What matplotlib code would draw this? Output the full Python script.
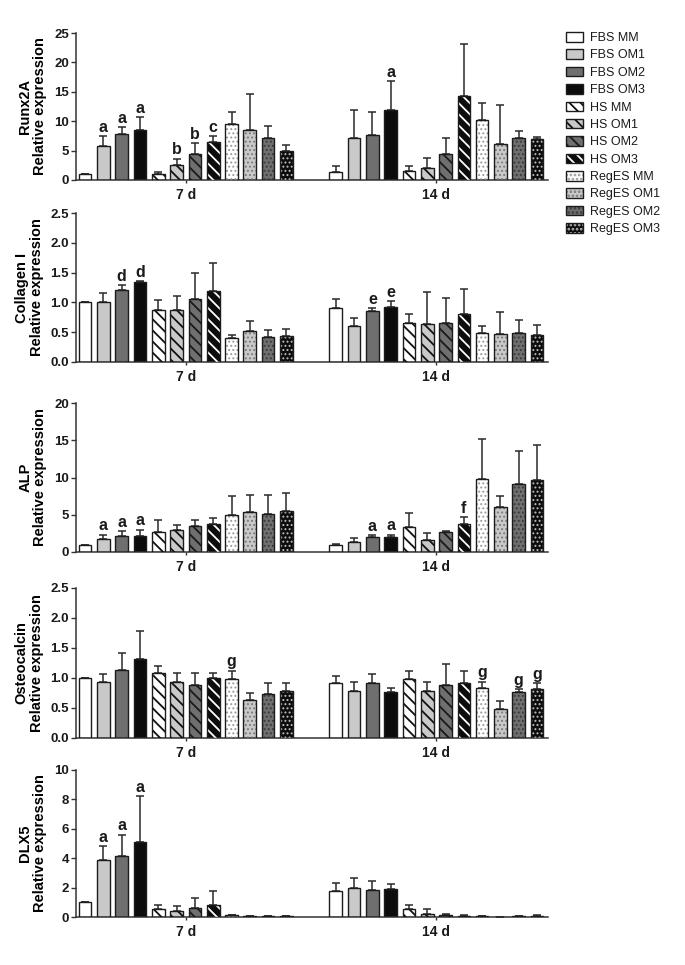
import matplotlib
matplotlib.use('Agg')
import matplotlib.pyplot as plt
import numpy as np
from matplotlib.patches import Patch
from matplotlib.legend_handler import HandlerTuple
from matplotlib.ticker import FormatStrFormatter, MultipleLocator

plt.rcParams['font.family'] = ['Liberation Sans', 'DejaVu Sans']
plt.rcParams['font.weight'] = 'bold'
plt.rcParams['hatch.linewidth'] = 1.3
plt.rcParams['text.color'] = '#1a1a1a'

# ---------------- data ----------------
conditions = ['FBS MM', 'FBS OM1', 'FBS OM2', 'FBS OM3',
              'HS MM', 'HS OM1', 'HS OM2', 'HS OM3',
              'RegES MM', 'RegES OM1', 'RegES OM2', 'RegES OM3']
timepoints = ['7 d', '14 d']

runx2a_7d = [1.0, 5.8, 7.8, 8.5, 1.1, 2.6, 4.4, 6.4, 9.5, 8.5, 7.1, 5.0]
runx2a_7d_err = [0.0, 1.7, 1.2, 2.2, 0.2, 1.0, 1.9, 1.0, 2.1, 6.2, 2.1, 0.9]
runx2a_14d = [1.4, 7.2, 7.6, 11.9, 1.6, 2.0, 4.4, 14.3, 10.2, 6.1, 7.2, 7.0]
runx2a_14d_err = [0.9, 4.7, 3.9, 4.9, 0.8, 1.7, 2.8, 8.9, 2.9, 6.6, 1.1, 0.3]
runx2a_7d_sig = ['', 'a', 'a', 'a', '', 'b', 'b', 'c', '', '', '', '']
runx2a_14d_sig = ['', '', '', 'a', '', '', '', '', '', '', '', '']

collagen_7d = [1.0, 1.0, 1.21, 1.35, 0.88, 0.88, 1.06, 1.19, 0.40, 0.52, 0.42, 0.44]
collagen_7d_err = [0.0, 0.16, 0.08, 0.01, 0.16, 0.23, 0.43, 0.47, 0.06, 0.16, 0.12, 0.11]
collagen_14d = [0.91, 0.61, 0.85, 0.93, 0.66, 0.64, 0.66, 0.80, 0.48, 0.47, 0.49, 0.45]
collagen_14d_err = [0.14, 0.12, 0.055, 0.09, 0.14, 0.54, 0.42, 0.43, 0.12, 0.37, 0.21, 0.17]
collagen_7d_sig = ['', '', 'd', 'd', '', '', '', '', '', '', '', '']
collagen_14d_sig = ['', '', 'e', 'e', '', '', '', '', '', '', '', '']

alp_7d = [1.0, 1.8, 2.1, 2.15, 2.7, 2.9, 3.5, 3.8, 5.0, 5.4, 5.1, 5.5]
alp_7d_err = [0.0, 0.5, 0.7, 0.85, 1.6, 0.75, 0.8, 0.7, 2.55, 2.2, 2.5, 2.4]
alp_14d = [0.95, 1.35, 2.05, 2.05, 3.4, 1.6, 2.7, 3.7, 9.8, 6.1, 9.1, 9.6]
alp_14d_err = [0.1, 0.55, 0.2, 0.25, 1.9, 0.9, 0.1, 1.0, 5.4, 1.45, 4.5, 4.8]
alp_7d_sig = ['', 'a', 'a', 'a', '', '', '', '', '', '', '', '']
alp_14d_sig = ['', '', 'a', 'a', '', '', '', 'f', '', '', '', '']

osteocalcin_7d = [1.0, 0.93, 1.13, 1.32, 1.08, 0.93, 0.89, 1.0, 0.99, 0.64, 0.74, 0.79]
osteocalcin_7d_err = [0.0, 0.13, 0.29, 0.46, 0.12, 0.15, 0.19, 0.09, 0.13, 0.11, 0.17, 0.12]
osteocalcin_14d = [0.91, 0.78, 0.91, 0.77, 0.98, 0.78, 0.89, 0.92, 0.84, 0.48, 0.76, 0.82]
osteocalcin_14d_err = [0.12, 0.16, 0.16, 0.06, 0.13, 0.15, 0.34, 0.19, 0.10, 0.14, 0.05, 0.09]
osteocalcin_7d_sig = ['', '', '', '', '', '', '', '', 'g', '', '', '']
osteocalcin_14d_sig = ['', '', '', '', '', '', '', '', 'g', '', 'g', 'g']

dlx5_7d = [1.0, 3.9, 4.15, 5.1, 0.52, 0.39, 0.61, 0.84, 0.11, 0.06, 0.07, 0.07]
dlx5_7d_err = [0.0, 0.92, 1.45, 3.1, 0.3, 0.38, 0.66, 0.93, 0.03, 0.02, 0.02, 0.02]
dlx5_14d = [1.8, 1.95, 1.86, 1.9, 0.52, 0.2, 0.11, 0.10, 0.05, 0.02, 0.07, 0.10]
dlx5_14d_err = [0.54, 0.71, 0.59, 0.33, 0.3, 0.35, 0.09, 0.03, 0.02, 0.01, 0.02, 0.03]
dlx5_7d_sig = ['', 'a', 'a', 'a', '', '', '', '', '', '', '', '']
dlx5_14d_sig = ['', '', '', '', '', '', '', '', '', '', '', '']

genes = ['Runx2A', 'Collagen I', 'ALP', 'Osteocalcin', 'DLX5']
y_max = [25, 2.5, 20, 2.5, 10]
y_step = [5, 0.5, 5, 0.5, 2]

panel_data = [
    (runx2a_7d, runx2a_7d_err, runx2a_7d_sig, runx2a_14d, runx2a_14d_err, runx2a_14d_sig),
    (collagen_7d, collagen_7d_err, collagen_7d_sig, collagen_14d, collagen_14d_err, collagen_14d_sig),
    (alp_7d, alp_7d_err, alp_7d_sig, alp_14d, alp_14d_err, alp_14d_sig),
    (osteocalcin_7d, osteocalcin_7d_err, osteocalcin_7d_sig, osteocalcin_14d, osteocalcin_14d_err, osteocalcin_14d_sig),
    (dlx5_7d, dlx5_7d_err, dlx5_7d_sig, dlx5_14d, dlx5_14d_err, dlx5_14d_sig),
]

# ---------------- styles ----------------
fills = ['#ffffff', '#c9c9c9', '#6f6f6f', '#0c0c0c'] * 3
STRIPE = '\\\\\\'
DOTS = '....'
hatches = [None] * 4 + [STRIPE] * 4 + [DOTS] * 4
hatch_cols = [None] * 4 + ['#111111', '#111111', '#1a1a1a', '#ffffff'] + \
             ['#9a9a9a', '#7a7a7a', '#3a3a3a', '#bdbdbd']
EDGE = '#1c1c1c'
BAR_W = 0.69
GROUP_OFFSET = 13.7

# axes positions in pixels (top, bottom)
fig_w, fig_h = 685, 965
ax_left, ax_right = 76, 548
panel_px = [(33, 180), (213, 362), (403, 552), (588, 738), (770, 917)]

fig = plt.figure(figsize=(fig_w / 100, fig_h / 100), dpi=100)


def styled_bar(ax, x, h, i):
    ax.bar(x, h, BAR_W, color=fills[i], edgecolor='none', linewidth=0, zorder=2)
    if hatches[i] is not None:
        bc = ax.bar(x, h, BAR_W, facecolor='none', edgecolor=hatch_cols[i],
                    linewidth=0, hatch=hatches[i], zorder=3)
        for p in bc.patches:
            if hasattr(p, 'set_hatch_linewidth'):
                p.set_hatch_linewidth(1.3 if hatches[i] == STRIPE else 0.9)
    ax.bar(x, h, BAR_W, facecolor='none', edgecolor=EDGE, linewidth=1.0, zorder=4)


base_x = np.arange(len(conditions))
for k, gene in enumerate(genes):
    top, bot = panel_px[k]
    ax = fig.add_axes([ax_left / fig_w, 1 - bot / fig_h,
                       (ax_right - ax_left) / fig_w, (bot - top) / fig_h])
    d7, e7, s7, d14, e14, s14 = panel_data[k]
    for g, (vals, errs, sigs) in enumerate([(d7, e7, s7), (d14, e14, s14)]):
        xs = base_x + g * GROUP_OFFSET
        vals = np.asarray(vals)
        errs = np.asarray(errs)
        for i in range(len(conditions)):
            styled_bar(ax, xs[i], vals[i], i)
        ax.errorbar(xs, vals, yerr=[np.zeros_like(errs), errs], fmt='none',
                    ecolor='#2a2a2a', elinewidth=1.1, capsize=3.0, capthick=1.1,
                    zorder=1.5)
        for i, s in enumerate(sigs):
            if s:
                ax.annotate(s, (xs[i], vals[i] + errs[i]), xytext=(0, 1.0),
                            textcoords='offset points', ha='center', va='bottom',
                            fontsize=11.5, fontweight='bold', color='#1a1a1a')
    ax.set_xlim(-0.5, 25.3)
    ax.set_ylim(0, y_max[k])
    ax.yaxis.set_major_locator(MultipleLocator(y_step[k]))
    if y_step[k] < 1:
        ax.yaxis.set_major_formatter(FormatStrFormatter('%.1f'))
    else:
        ax.yaxis.set_major_formatter(FormatStrFormatter('%d'))
    ax.set_xticks([5.5, 5.5 + GROUP_OFFSET])
    ax.set_xticklabels(timepoints)
    for sp in ['top', 'right']:
        ax.spines[sp].set_visible(False)
    for sp in ['left', 'bottom']:
        ax.spines[sp].set_linewidth(1.1)
        ax.spines[sp].set_color('#333333')
    ax.tick_params(axis='y', direction='out', length=3.5, width=1.0, color='#333333',
                   labelsize=9.5, pad=1.5, labelcolor='#1a1a1a')
    ax.tick_params(axis='x', direction='out', length=2.5, width=1.0, color='#333333',
                   labelsize=10, pad=3, labelcolor='#1a1a1a')
    ax.set_ylabel(f'{gene}\nRelative expression', fontsize=10.5, fontweight='bold',
                  labelpad=5, linespacing=1.1)
    for lab in ax.get_xticklabels() + ax.get_yticklabels():
        lab.set_fontweight('bold')
    ax.set_facecolor('none')

# legend
handles = []
for i in range(len(conditions)):
    parts = [Patch(facecolor=fills[i], edgecolor='none', linewidth=0)]
    if hatches[i] is not None:
        parts.append(Patch(facecolor='none', edgecolor=hatch_cols[i], linewidth=0,
                           hatch=hatches[i]))
    parts.append(Patch(facecolor='none', edgecolor=EDGE, linewidth=1.0))
    handles.append(tuple(parts))

fig.legend(handles, conditions, loc='upper left',
           bbox_to_anchor=(566 / fig_w, 1 - 32 / fig_h),
           handler_map={tuple: HandlerTuple(ndivide=1, pad=0)},
           frameon=False, handlelength=1.35, handleheight=0.8,
           handletextpad=0.55, labelspacing=0.42, borderpad=0, borderaxespad=0,
           prop={'size': 9, 'weight': 'normal',
                 'family': ['Liberation Sans', 'DejaVu Sans']})

fig.savefig('out.png', dpi=100)
